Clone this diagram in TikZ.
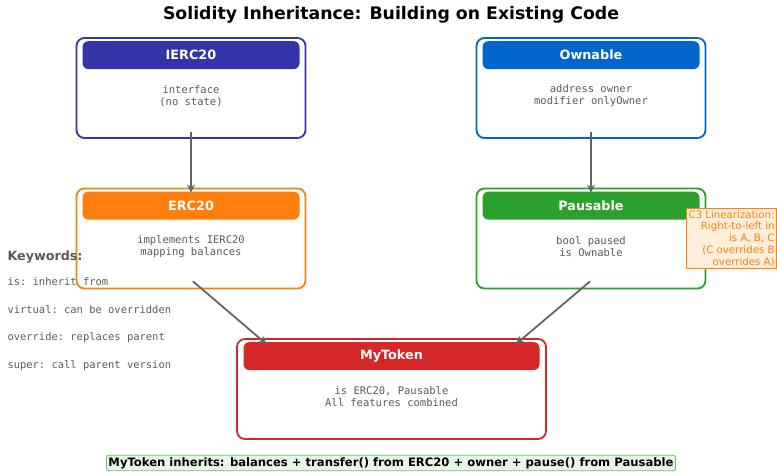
\documentclass[tikz,border=0pt]{standalone}
\usepackage{fontspec}
\setmainfont{DejaVu Sans}
\setmonofont{DejaVu Sans Mono}
\usetikzlibrary{arrows.meta}
\definecolor{cIerc}{RGB}{51,51,170}
\definecolor{cOwn}{RGB}{0,102,204}
\definecolor{cErc}{RGB}{255,127,14}
\definecolor{cPau}{RGB}{44,160,44}
\definecolor{cTok}{RGB}{214,39,40}
\definecolor{txtgray}{RGB}{90,90,90}
\definecolor{arrgray}{RGB}{100,100,100}
\definecolor{noteorange}{RGB}{255,238,218}
\definecolor{notegreen}{RGB}{232,246,232}

\begin{document}
\begin{tikzpicture}[x=1pt,y=-1pt,
	outer/.style={draw=#1,line width=1.8pt,rounded corners=8pt,fill=white,minimum width=229pt,minimum height=100pt,inner sep=0pt},
	head/.style={fill=#1,rounded corners=6pt,minimum width=217pt,minimum height=28pt,inner sep=0pt,text=white,font=\bfseries\fontsize{12.8}{15}\selectfont},
	body/.style={text=txtgray,align=center,font=\ttfamily\fontsize{10.5}{12}\selectfont},
	arr/.style={draw=arrgray,line width=1.8pt,-{Stealth[length=8pt,width=8pt]}},
	kw/.style={anchor=west,text=txtgray,font=\ttfamily\fontsize{10.45}{12}\selectfont}]
		\useasboundingbox (0,0) rectangle (777,472);
		\node[font=\bfseries\fontsize{17.3}{20}\selectfont] (title) at (391,15) {Solidity Inheritance: Building on Existing Code};
		% contract boxes
		\foreach \nm/\x/\y/\col/\ttl/\txt in {ierc/191/88/cIerc/IERC20/{interface\\(no state)},
			own/591/88/cOwn/Ownable/{address owner\\modifier onlyOwner},
			erc/191/238.5/cErc/ERC20/{implements IERC20\\mapping balances},
			pau/591/238.5/cPau/Pausable/{bool paused\\is Ownable}}
		{
			\node[outer=\col] (\nm) at (\x,\y) {};
			\node[head=\col] (\nm H) at ([yshift=-18pt]\nm.north) {\ttl};
			\node[body] (\nm B) at ([yshift=-8pt]\nm.center) {\txt};
		}
		\node[outer=cTok,minimum width=309pt] (tok) at (391.5,389) {};
		\node[head=cTok,minimum width=296pt] (tokH) at ([yshift=-18pt]tok.north) {MyToken};
		\node[body] (tokB) at ([yshift=-8pt]tok.center) {is ERC20, Pausable\\All features combined};
		% inheritance arrows
		\draw[arr] ([yshift=7pt]ierc.south) -- ([yshift=-5pt]erc.north);
		\draw[arr] ([yshift=7pt]own.south) -- ([yshift=-5pt]pau.north);
		\draw[arr] ([shift={(2pt,8pt)}]erc.south) -- ([shift={(-125pt,-6pt)}]tok.north);
		\draw[arr] ([shift={(-1pt,8pt)}]pau.south) -- ([shift={(124.5pt,-6pt)}]tok.north);
		% keywords
		\node[anchor=west,text=txtgray,font=\bfseries\fontsize{12.7}{15}\selectfont] (kwT) at (4,257) {Keywords:};
		\foreach \i/\y/\t in {1/282/{is: inherit from},2/310/{virtual: can be overridden},3/338/{override: replaces parent},4/366/{super: call parent version}}
			\node[kw] (kw\i) at (4,\y) {\t};
		% notes
		\node[draw=cErc,fill=noteorange,line width=0.8pt,text=cErc,align=right,inner sep=2pt,
			font=\fontsize{10.2}{11.8}\selectfont,anchor=north east] (c3) at (777,208)
			{C3 Linearization:\\Right-to-left in\\is A, B, C\\(C overrides B\\overrides A)};
		\node[draw=cPau!70,fill=notegreen,line width=0.8pt,rounded corners=2pt,inner sep=2pt,
			font=\bfseries\fontsize{11.6}{13}\selectfont] (sum) at (391,463)
			{MyToken inherits: balances + transfer() from ERC20 + owner + pause() from Pausable};
	\end{tikzpicture}
\end{document}
